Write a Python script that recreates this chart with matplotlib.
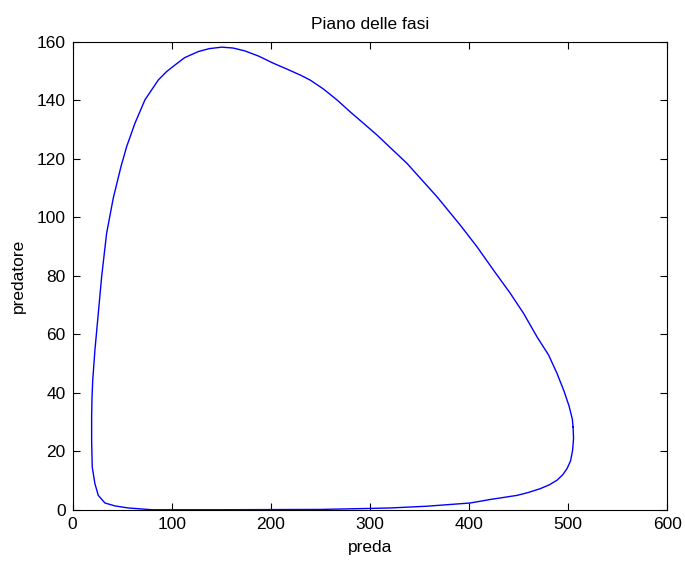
import matplotlib
matplotlib.use("Agg")
import matplotlib.pyplot as plt

# points (preda, predatore)
preda = [505.0, 505.5, 504.6, 502.5, 499.0, 494.5, 488.9, 481.0, 472.0, 460.0,
         448.5, 421.5, 401.3, 357.6, 320.5, 280.0, 250.0, 150.0, 79.8, 56.2,
         42.7, 32.6, 25.9, 22.5, 19.8, 19.2, 19.2, 19.6, 20.3, 22.5,
         25.9, 29.3, 34.3, 41.0, 48.8, 54.5, 62.9, 73.0, 86.5, 95.0,
         103.3, 113.0, 126.9, 138.0, 150.5, 162.0, 174.0, 188.0, 202.6, 215.0,
         229.6, 240.0, 253.1, 266.7, 280.1, 293.5, 307.1, 337.4, 367.7, 391.2,
         408.1, 424.8, 441.7, 455.2, 468.7, 480.4, 488.9, 496.0, 501.0, 504.3,
         505.0]
predatore = [28.4, 24.5, 20.5, 16.8, 14.2, 12.0, 10.2, 8.6, 7.3, 6.0,
             5.0, 3.6, 2.4, 1.3, 0.7, 0.4, 0.2, 0.1, 0.1, 0.7,
             1.4, 2.4, 5.0, 9.0, 14.7, 23.8, 32.0, 38.6, 44.3, 54.6,
             67.1, 79.7, 94.5, 106.5, 117.3, 124.1, 132.1, 140.1, 146.9, 149.8,
             152.0, 154.5, 156.6, 157.6, 158.1, 157.8, 156.8, 155.0, 152.6, 150.8,
             148.6, 146.8, 143.8, 140.1, 136.0, 132.1, 128.1, 118.4, 107.0, 97.3,
             89.9, 81.9, 74.0, 67.1, 59.1, 52.9, 46.6, 40.5, 35.5, 31.0,
             28.4]

plt.rcParams['font.family'] = ['Liberation Sans', 'DejaVu Sans']
plt.rcParams['font.size'] = 12.5

fig = plt.figure(figsize=(6.85, 5.62), dpi=100)
ax = fig.add_axes([0.106, 0.0925, 0.868, 0.8335])
ax.plot(preda, predatore, color='#0000ff', lw=1.0)

ax.set_xlim(0, 600)
ax.set_ylim(0, 160)
ax.set_xticks(range(0, 601, 100))
ax.set_yticks(range(0, 161, 20))
ax.tick_params(axis='x', pad=5)
ax.tick_params(axis='y', pad=5)
ax.tick_params(direction='in', top=True, right=True, length=5, width=0.8)
for s in ax.spines.values():
    s.set_linewidth(0.8)

ax.set_title('Piano delle fasi', fontsize=12.5, pad=9)
ax.set_xlabel('preda', labelpad=6)
ax.set_ylabel('predatore', labelpad=8)

fig.savefig('out.png', dpi=100)
